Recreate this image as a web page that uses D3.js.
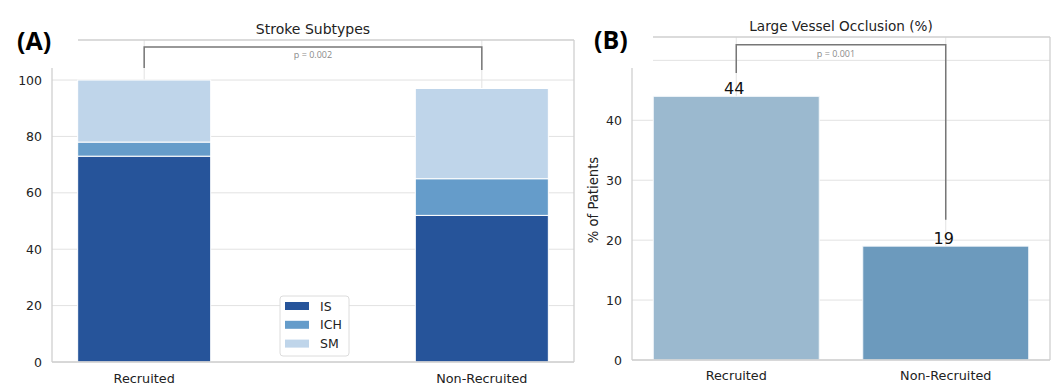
<!DOCTYPE html>
<html>
<head>
<meta charset="utf-8">
<script src="https://cdn.jsdelivr.net/npm/d3@7"></script>
<style>
  body { margin: 0; background: #fff; }
  svg { display: block; font-family: "DejaVu Sans", sans-serif; }
</style>
</head>
<body>
<svg id="chart" width="1056" height="388"></svg>
<script>
// panel A data
const groups = ["Recruited", "Non-Recruited"];
const subtypes = ["IS", "ICH", "SM"];
const isVals = [73, 52];
const ichVals = [5, 13];
const smVals = [22, 32];
const ticksA = [0, 20, 40, 60, 80, 100];
const pA = "p = 0.002";

// panel B data
const lvoVals = [44, 19];
const ticksB = [0, 10, 20, 30, 40, 50];
const pB = "p = 0.001";

const subColors = { IS: "#26549a", ICH: "#659cca", SM: "#bfd5ea" };
const lvoColors = ["#9bb9cf", "#6c9abd"];
const gridColor = "#e2e2e2";
const spineColor = "#cfcfcf";

const svg = d3.select("#chart");

function drawPanel(cfg) {
    const g = svg.append("g");
    const x = d3.scaleBand().domain(groups).range([cfg.left, cfg.right])
        .paddingInner(cfg.pi).paddingOuter(cfg.po);
    const y = d3.scaleLinear().domain([0, cfg.ymax]).range([cfg.bottom, cfg.top]);

    // grid
    g.selectAll(".hgrid").data(cfg.ticks).enter().append("line")
        .attr("x1", cfg.left).attr("x2", cfg.right)
        .attr("y1", d => y(d)).attr("y2", d => y(d))
        .attr("stroke", gridColor).attr("stroke-width", 1);
    g.selectAll(".vgrid").data(groups).enter().append("line")
        .attr("x1", d => x(d) + x.bandwidth() / 2).attr("x2", d => x(d) + x.bandwidth() / 2)
        .attr("y1", cfg.top).attr("y2", cfg.bottom)
        .attr("stroke", gridColor).attr("stroke-width", 1);

    return { g, x, y };
}

// ---------- panel A ----------
const A = drawPanel({ left: 52, right: 574, top: 40, bottom: 362, ymax: 114.2,
    pi: 0.606, po: 0.076, ticks: ticksA });

const stackData = groups.map((k, i) => ({ group: k, IS: isVals[i], ICH: ichVals[i], SM: smVals[i] }));
const series = d3.stack().keys(subtypes)(stackData);

A.g.selectAll(".layer").data(series).enter().append("g")
    .attr("fill", d => subColors[d.key])
  .selectAll("rect").data(d => d).enter().append("rect")
    .attr("x", d => A.x(d.data.group))
    .attr("width", A.x.bandwidth())
    .attr("y", d => A.y(d[1]))
    .attr("height", d => A.y(d[0]) - A.y(d[1]))
    .attr("stroke", "#fff").attr("stroke-width", 1);

// ---------- panel B ----------
const B = drawPanel({ left: 632, right: 1050, top: 37, bottom: 360, ymax: 53.9,
    pi: 0.2076, po: 0.1015, ticks: ticksB });

B.g.selectAll(".bar").data(lvoVals).enter().append("rect")
    .attr("x", (d, i) => B.x(groups[i]))
    .attr("width", B.x.bandwidth())
    .attr("y", d => B.y(d))
    .attr("height", d => B.y(0) - B.y(d))
    .attr("fill", (d, i) => lvoColors[i])
    .attr("stroke", "#f4f8fb").attr("stroke-width", 1);

B.g.selectAll(".val").data(lvoVals).enter().append("text")
    .attr("x", (d, i) => B.x(groups[i]) + B.x.bandwidth() / 2 - 2)
    .attr("y", d => B.y(d) - 2)
    .attr("text-anchor", "middle").attr("font-size", 16).attr("fill", "#111")
    .text(d => d);

// white covers over top-left corners
svg.append("rect").attr("x", 0).attr("y", 0).attr("width", 78).attr("height", 68).attr("fill", "#fff");
svg.append("rect").attr("x", 580).attr("y", 0).attr("width", 73).attr("height", 68).attr("fill", "#fff");

// spines
function spines(l, r, t, b, topStart, leftStart) {
    const s = svg.append("g").attr("stroke", spineColor).attr("stroke-width", 1.3).attr("fill", "none");
    s.append("line").attr("x1", topStart).attr("x2", r).attr("y1", t).attr("y2", t);
    s.append("line").attr("x1", r).attr("x2", r).attr("y1", t).attr("y2", b);
    s.append("line").attr("x1", l).attr("x2", r).attr("y1", b).attr("y2", b);
    s.append("line").attr("x1", l).attr("x2", l).attr("y1", leftStart).attr("y2", b);
}
spines(52, 574, 40, 362, 78, 68);
spines(632, 1050, 37, 360, 653, 68);

// axes tick labels
function yAxis(p, xpos, ticks) {
    const ax = svg.append("g").attr("transform", `translate(${xpos},0)`)
        .call(d3.axisLeft(p.y).tickValues(ticks).tickSize(0).tickPadding(0));
    ax.select(".domain").remove();
    ax.selectAll("text").attr("font-size", 12.5).attr("fill", "#222")
        .attr("font-family", "DejaVu Sans");
    return ax;
}
yAxis(A, 42, ticksA);
yAxis(B, 622, ticksB.slice(0, 5));

function xAxis(p, ypos) {
    const ax = svg.append("g").attr("transform", `translate(0,${ypos})`)
        .call(d3.axisBottom(p.x).tickSize(0).tickPadding(0));
    ax.select(".domain").remove();
    ax.selectAll("text").attr("font-size", 12.8).attr("fill", "#222")
        .attr("font-family", "DejaVu Sans").attr("dy", 0);
}
xAxis(A, 383);
xAxis(B, 380);

// legend
const leg = svg.append("g").attr("transform", "translate(280,296)");
leg.append("rect").attr("width", 69).attr("height", 60).attr("rx", 3)
    .attr("fill", "#fff").attr("stroke", "#dcdcdc").attr("stroke-width", 1);
leg.selectAll(".item").data(subtypes).enter().append("rect")
    .attr("x", 5).attr("y", (d, i) => 6 + i * 18.8)
    .attr("width", 24).attr("height", 8)
    .attr("fill", d => subColors[d]);
leg.selectAll(".lab").data(subtypes).enter().append("text")
    .attr("x", 40).attr("y", (d, i) => 14.5 + i * 18.8)
    .attr("font-size", 12.5).attr("fill", "#222").text(d => d);

// significance brackets
function bracket(p, x1, x2, yTop, yL, yR, label, lx, ly) {
    const c1 = p.x(groups[x1]) + p.x.bandwidth() / 2;
    const c2 = p.x(groups[x2]) + p.x.bandwidth() / 2;
    svg.append("path")
        .attr("d", `M${c1},${p.y(yL)}V${p.y(yTop)}H${c2}V${p.y(yR)}`)
        .attr("fill", "none").attr("stroke", "#777").attr("stroke-width", 1.5);
    svg.append("text").attr("x", lx).attr("y", ly)
        .attr("text-anchor", "middle").attr("font-family", "Open Sans")
        .attr("font-size", 9).attr("fill", "#8a8a8a").text(label);
}
bracket(A, 0, 1, 111.7, 104.3, 103.6, pA, 313, 58);
bracket(B, 0, 1, 52.6, 47.9, 23.4, pB, 836, 57);

// titles
svg.append("text").attr("x", 313).attr("y", 34).attr("text-anchor", "middle")
    .attr("font-size", 14).attr("fill", "#222").text("Stroke Subtypes");
svg.append("text").attr("x", 841).attr("y", 31).attr("text-anchor", "middle")
    .attr("font-size", 13.6).attr("fill", "#222").text("Large Vessel Occlusion (%)");

svg.append("text").attr("transform", "translate(598,200) rotate(-90)")
    .attr("text-anchor", "middle").attr("font-size", 13.2).attr("fill", "#222")
    .text("% of Patients");

svg.append("text").attr("x", 17).attr("y", 50).attr("font-family", "Open Sans")
    .attr("font-weight", "bold").attr("font-size", 25).attr("fill", "#000").text("(A)");
svg.append("text").attr("x", 594).attr("y", 49).attr("font-family", "Open Sans")
    .attr("font-weight", "bold").attr("font-size", 25).attr("fill", "#000").text("(B)");
</script>
</body>
</html>
